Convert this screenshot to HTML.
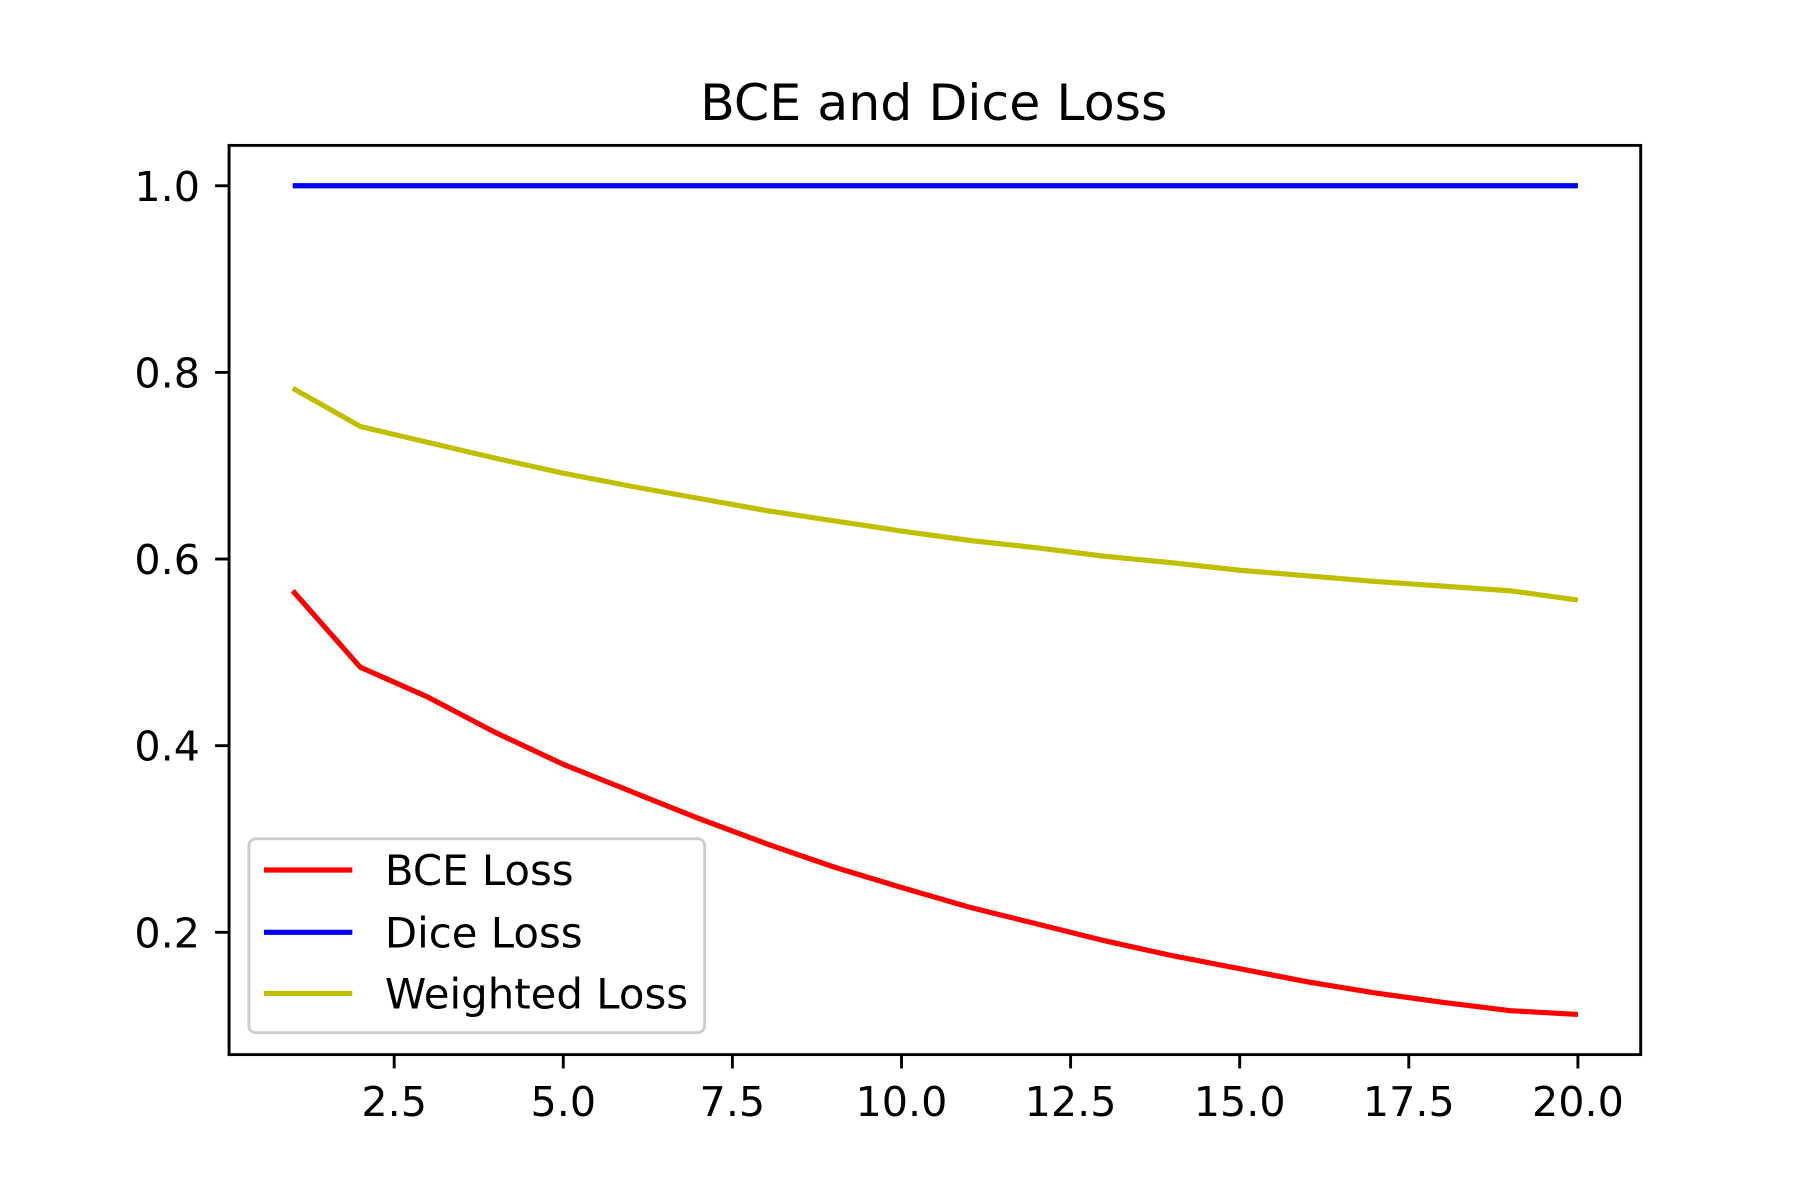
<!DOCTYPE html>
<html><head><meta charset="utf-8"><style>
html,body{margin:0;padding:0;background:#fff;}
svg{display:block;font-family:"DejaVu Sans","Liberation Sans",sans-serif;}
</style></head><body>
<svg id="chart" width="1800" height="1200" viewBox="0 0 1548 1040" preserveAspectRatio="none" xmlns="http://www.w3.org/2000/svg">
<rect width="1548" height="1040" fill="#fff"/>
<text x="803" y="104" font-size="43.5" text-anchor="middle">BCE and Dice Loss</text>
<g id="plot"></g>
<rect x="197" y="126" width="1214" height="788" fill="none" stroke="#000" stroke-width="2.5"/>
<g id="legend">
<rect x="214" y="727" width="392" height="168" rx="6" fill="#fff" fill-opacity="0.8" stroke="#ccc" stroke-width="2.5"/>
<g><line x1="227" x2="303" y1="754" y2="754" stroke="#ff0000" stroke-width="4.5"/><text x="331" y="767" font-size="36">BCE Loss</text></g>
<g><line x1="227" x2="303" y1="808" y2="808" stroke="#0000ff" stroke-width="4.5"/><text x="331" y="821" font-size="36">Dice Loss</text></g>
<g><line x1="227" x2="303" y1="861" y2="861" stroke="#bfbf00" stroke-width="4.5"/><text x="331" y="874" font-size="36">Weighted Loss</text></g>
</g>
</svg>
<script>
const epochs = [1,2,3,4,5,6,7,8,9,10,11,12,13,14,15,16,17,18,19,20];
const bceLoss = [0.566,0.484,0.452,0.414,0.380,0.351,0.322,0.295,0.270,0.248,0.227,0.209,0.191,0.175,0.161,0.147,0.135,0.125,0.116,0.112];
const diceLoss = [1,1,1,1,1,1,1,1,1,1,1,1,1,1,1,1,1,1,1,1];
const weightedLoss = [0.783,0.742,0.725,0.708,0.692,0.678,0.665,0.652,0.641,0.630,0.620,0.612,0.603,0.596,0.588,0.582,0.576,0.571,0.566,0.556];
const xTicks = [2.5,5.0,7.5,10.0,12.5,15.0,17.5,20.0];
const yTicks = [0.2,0.4,0.6,0.8,1.0];

const NS = "http://www.w3.org/2000/svg";
const xs = v => 339 + (v - 2.5) * (1357 - 339) / 17.5;
const ys = v => 969.75 - v * 808.75;
const g = document.getElementById('plot');
function mk(tag, attrs){const e=document.createElementNS(NS,tag);for(const k in attrs)e.setAttribute(k,attrs[k]);return e;}

xTicks.forEach(t=>{
  const l=mk('line',{x1:xs(t),x2:xs(t),y1:914,y2:926,stroke:'#000','stroke-width':2.5});
  
  
  g.appendChild(l);
  const tx=mk('text',{x:xs(t),y:967,'font-size':35.5,'text-anchor':'middle'});
  tx.textContent=t.toFixed(1);
  
  
  g.appendChild(tx);
});
yTicks.forEach(t=>{
  const l=mk('line',{x1:185,x2:197,y1:ys(t),y2:ys(t),stroke:'#000','stroke-width':2.5});
  
  
  g.appendChild(l);
  const tx=mk('text',{x:172,y:ys(t)+13,'font-size':35.5,'text-anchor':'end'});
  tx.textContent=t.toFixed(1);
  
  
  g.appendChild(tx);
});
function series(vals,color,name){
  const p=mk('polyline',{points:vals.map((v,i)=>xs(epochs[i])+','+ys(v)).join(' '),fill:'none',stroke:color,'stroke-width':4.5,'stroke-linejoin':'round'});
  
  
  g.appendChild(p);
}
series(bceLoss,'#ff0000','bce-loss-line');
series(diceLoss,'#0000ff','dice-loss-line');
series(weightedLoss,'#bfbf00','weighted-loss-line');
</script>
</body></html>
